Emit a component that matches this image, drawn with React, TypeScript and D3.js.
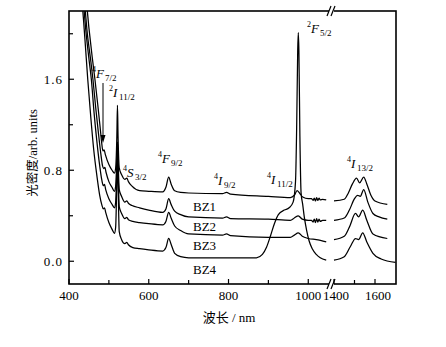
import React from "react";
import * as d3 from "d3";

type P = [number, number];

// ---- data (wavelength nm, optical density) ----
const bz1Vis: P[] = [
  [438, 2.4], [443, 2.3], [450, 2.05], [458, 1.8], [465, 1.6], [472, 1.38], [478, 1.18], [482, 1.04],
  [485, 0.97], [488, 0.98], [491, 0.94], [500, 0.85], [508, 0.8], [514, 0.775], [517, 0.82],
  [520, 1.1], [521.5, 1.37], [523, 1.1], [526, 0.82], [532, 0.76], [540, 0.72], [545, 0.73],
  [549, 0.7], [558, 0.66], [577, 0.62], [600, 0.615], [635, 0.61], [643, 0.65], [650, 0.74],
  [656, 0.68], [665, 0.62], [680, 0.605], [700, 0.6], [785, 0.595], [795, 0.605], [805, 0.59],
  [900, 0.57], [955, 0.56], [965, 0.58], [972, 0.62], [978, 0.6], [986, 0.565], [1000, 0.55],
  [1008, 0.55], [1012, 0.535], [1015, 0.555], [1018, 0.53], [1021, 0.56], [1024, 0.535],
  [1027, 0.555], [1030, 0.54], [1036, 0.545], [1045, 0.54],
];
const bz2Vis: P[] = [
  [433, 2.4], [438, 2.3], [446, 2.0], [455, 1.75], [460, 1.6], [467, 1.35], [474, 1.12], [480, 0.94],
  [484, 0.84], [487, 0.815], [490, 0.825], [493, 0.78], [500, 0.7], [508, 0.65], [514, 0.615],
  [517, 0.66], [520, 0.9], [521.5, 1.05], [523, 0.9], [526, 0.63], [532, 0.57], [540, 0.52],
  [545, 0.53], [549, 0.51], [558, 0.49], [577, 0.47], [600, 0.45], [635, 0.43], [643, 0.46],
  [650, 0.55], [656, 0.5], [665, 0.44], [680, 0.41], [700, 0.39], [785, 0.38], [795, 0.39],
  [805, 0.375], [900, 0.37], [955, 0.36], [965, 0.38], [975, 0.4], [985, 0.37], [1000, 0.36],
  [1008, 0.36], [1012, 0.345], [1015, 0.37], [1018, 0.34], [1021, 0.375], [1024, 0.345],
  [1027, 0.37], [1030, 0.35], [1036, 0.36], [1045, 0.36],
];
const bz3Vis: P[] = [
  [430, 2.4], [435, 2.3], [443, 2.0], [451, 1.75], [456, 1.6], [463, 1.3], [470, 1.05], [477, 0.84],
  [482, 0.72], [486, 0.665], [489, 0.675], [492, 0.63], [500, 0.55], [508, 0.5], [514, 0.47],
  [517, 0.52], [520, 0.8], [521.5, 0.95], [523, 0.8], [526, 0.48], [532, 0.42], [540, 0.375],
  [545, 0.385], [549, 0.365], [560, 0.35], [577, 0.34], [600, 0.33], [635, 0.32], [643, 0.35],
  [650, 0.43], [656, 0.38], [665, 0.31], [680, 0.27], [700, 0.24], [785, 0.23], [795, 0.24],
  [805, 0.225], [900, 0.21], [955, 0.21], [965, 0.23], [975, 0.25], [985, 0.22], [1000, 0.2],
  [1020, 0.19], [1045, 0.17],
];
const bz4Vis: P[] = [
  [427, 2.4], [432, 2.3], [440, 1.95], [447, 1.6], [455, 1.25], [462, 0.98], [470, 0.75], [477, 0.58],
  [482, 0.5], [486, 0.46], [489, 0.47], [492, 0.43], [500, 0.34], [508, 0.28], [514, 0.245],
  [517, 0.3], [520, 0.7], [521.5, 0.9], [523, 0.7], [526, 0.26], [532, 0.19], [540, 0.155],
  [545, 0.165], [549, 0.145], [560, 0.12], [577, 0.11], [600, 0.1], [635, 0.09], [643, 0.12],
  [650, 0.2], [656, 0.15], [665, 0.07], [680, 0.04], [700, 0.03], [800, 0.03], [870, 0.03],
  [885, 0.06], [895, 0.12], [905, 0.22], [915, 0.33], [925, 0.41], [940, 0.45], [952, 0.47],
  [962, 0.52], [968, 0.7], [971, 1.2], [973.5, 1.85], [975, 2.01], [976.5, 1.85], [979, 1.1],
  [982, 0.6], [986, 0.5], [990, 0.39], [996, 0.27], [1002, 0.18], [1010, 0.11], [1020, 0.06],
  [1030, 0.03], [1045, 0.01],
];

const bz1Ir: P[] = [
  [1400, 0.53], [1450, 0.545], [1470, 0.6], [1490, 0.68], [1510, 0.73], [1525, 0.69], [1545, 0.74],
  [1560, 0.68], [1580, 0.58], [1600, 0.53], [1660, 0.5],
];
const bz2Ir: P[] = [
  [1400, 0.36], [1450, 0.38], [1475, 0.45], [1500, 0.55], [1515, 0.58], [1528, 0.57], [1545, 0.63],
  [1565, 0.52], [1590, 0.42], [1620, 0.39], [1660, 0.37],
];
const bz3Ir: P[] = [
  [1400, 0.19], [1450, 0.22], [1475, 0.3], [1505, 0.42], [1520, 0.39], [1540, 0.45], [1560, 0.36],
  [1590, 0.24], [1660, 0.2],
];
const bz4Ir: P[] = [
  [1400, 0.01], [1450, 0.04], [1480, 0.13], [1505, 0.2], [1520, 0.19], [1540, 0.25], [1560, 0.17],
  [1590, 0.07], [1630, 0.02], [1700, -0.01],
];

const seriesNames = ["BZ1", "BZ2", "BZ3", "BZ4"];
const visSeries = [bz1Vis, bz2Vis, bz3Vis, bz4Vis];
const irSeries = [bz1Ir, bz2Ir, bz3Ir, bz4Ir];

const yTickLabels = [0.0, 0.8, 1.6];
const yMinorTicks = [0.4, 1.2, 2.0];
const xTicks1 = [400, 600, 800, 1000];
const xMinor1 = [500, 700, 900];
const xTicks2 = [1400, 1600];
const xMinor2 = [1500];

// ---- layout ----
const L = 69, R = 396, T = 11, B = 284;
const x1 = d3.scaleLinear().domain([400, 1057]).range([L, 331]);
const x2 = d3.scaleLinear().domain([1400, 1700]).range([334, 395.5]);
const y = d3.scaleLinear().domain([-0.2, 2.2]).range([B, T]);

const serif = "'Liberation Serif', 'Times New Roman', serif";

function Term({ x, yb, sup, main, sub, mw }: { x: number; yb: number; sup: string; main: string; sub: string; mw: number }) {
  return (
    <g fontFamily={serif} fill="#000">
      <text x={x} y={yb - 6} fontSize={8}>{sup}</text>
      <text x={x + 4} y={yb} fontSize={13} fontStyle="italic">{main}</text>
      <text x={x + 4 + mw} y={yb + 3} fontSize={9}>{sub}</text>
    </g>
  );
}

export default function App() {
  const l1 = d3.line<P>().x((d) => x1(d[0])).y((d) => y(d[1])).curve(d3.curveMonotoneX);
  const l2 = d3.line<P>().x((d) => x2(d[0])).y((d) => y(d[1])).curve(d3.curveMonotoneX);
  const breakX = 331;
  return (
    <svg width={446} height={347} style={{ position: "absolute", left: 0, top: 0, background: "#fff" }}>
      <defs>
        <clipPath id="plotclip">
          <rect x={L} y={T} width={R - L} height={B - T} />
        </clipPath>
      </defs>
      <rect width={446} height={347} fill="#fff" />
      <g clipPath="url(#plotclip)" fill="none" stroke="#000" strokeWidth={1.25}>
        {visSeries.map((s, i) => (
          <path key={"v" + i} d={l1(s) || ""} />
        ))}
        {irSeries.map((s, i) => (
          <path key={"r" + i} d={l2(s) || ""} />
        ))}
      </g>
      {/* frame */}
      <rect x={L} y={T} width={R - L} height={B - T} fill="none" stroke="#000" strokeWidth={1.6} />
      {/* axis breaks */}
      {[T, B].map((yy) => (
        <g key={yy} stroke="#000" strokeWidth={1.2}>
          <rect x={breakX - 2} y={yy - 2} width={5} height={4} fill="#fff" stroke="none" />
          <line x1={breakX - 4} y1={yy + 5} x2={breakX} y2={yy - 5} />
          <line x1={breakX} y1={yy + 5} x2={breakX + 4} y2={yy - 5} />
        </g>
      ))}
      {/* y ticks */}
      {yTickLabels.map((v) => (
        <g key={v}>
          <line x1={L} x2={L + 5} y1={y(v)} y2={y(v)} stroke="#000" strokeWidth={1.2} />
          <text x={63} y={y(v) + 4.5} fontSize={13} fontFamily={serif} textAnchor="end" letterSpacing={1}>
            {v.toFixed(1)}
          </text>
        </g>
      ))}
      {yMinorTicks.map((v) => (
        <line key={v} x1={L} x2={L + 4} y1={y(v)} y2={y(v)} stroke="#000" strokeWidth={1.2} />
      ))}
      {/* x ticks */}
      {xTicks1.map((v) => (
        <g key={v}>
          <line x1={x1(v)} x2={x1(v)} y1={B} y2={B - 5} stroke="#000" strokeWidth={1.2} />
          <text x={x1(v)} y={B + 16} fontSize={13} fontFamily={serif} textAnchor="middle">{v}</text>
        </g>
      ))}
      {xMinor1.map((v) => (
        <line key={v} x1={x1(v)} x2={x1(v)} y1={B} y2={B - 4} stroke="#000" strokeWidth={1.2} />
      ))}
      {xTicks2.map((v) => (
        <g key={v}>
          <line x1={x2(v)} x2={x2(v)} y1={B} y2={B - 5} stroke="#000" strokeWidth={1.2} />
          <text x={x2(v) + (v === 1400 ? 2 : 3)} y={B + 16} fontSize={13} fontFamily={serif} textAnchor="middle">{v}</text>
        </g>
      ))}
      {xMinor2.map((v) => (
        <line key={v} x1={x2(v)} x2={x2(v)} y1={B} y2={B - 4} stroke="#000" strokeWidth={1.2} />
      ))}
      {/* axis titles */}
      <text x={229} y={322} fontSize={13} fontFamily={serif} textAnchor="middle">
        <tspan fontFamily="'Noto Sans CJK SC'">波长</tspan> / nm
      </text>
      <text
        transform="translate(37,153) rotate(-90)"
        fontSize={12.5}
        fontFamily={serif}
        textAnchor="middle"
      >
        <tspan fontFamily="'Noto Sans CJK SC'">光密度</tspan>/arb. units
      </text>
      {/* series labels */}
      {seriesNames.map((n, i) => (
        <text key={n} x={193} y={[211, 231, 250, 274][i]} fontSize={13} fontFamily={serif}>{n}</text>
      ))}
      {/* transition labels */}
      <Term x={92} yb={78} sup="4" main="F" sub="7/2" mw={9} />
      <Term x={109} yb={97} sup="2" main="I" sub="11/2" mw={6} />
      <Term x={123} yb={177} sup="4" main="S" sub="3/2" mw={8} />
      <Term x={158} yb={163} sup="4" main="F" sub="9/2" mw={9} />
      <Term x={214} yb={185} sup="4" main="I" sub="9/2" mw={6} />
      <Term x={267} yb={184} sup="4" main="I" sub="11/2" mw={6} />
      <Term x={307} yb={33} sup="2" main="F" sub="5/2" mw={9} />
      <Term x={347} yb={168} sup="4" main="I" sub="13/2" mw={6} />
      {/* arrow */}
      <line x1={103} y1={83} x2={103} y2={137} stroke="#000" strokeWidth={1} />
      <path d="M100.5,135 L105.5,135 L103,143 Z" fill="#000" />
    </svg>
  );
}
